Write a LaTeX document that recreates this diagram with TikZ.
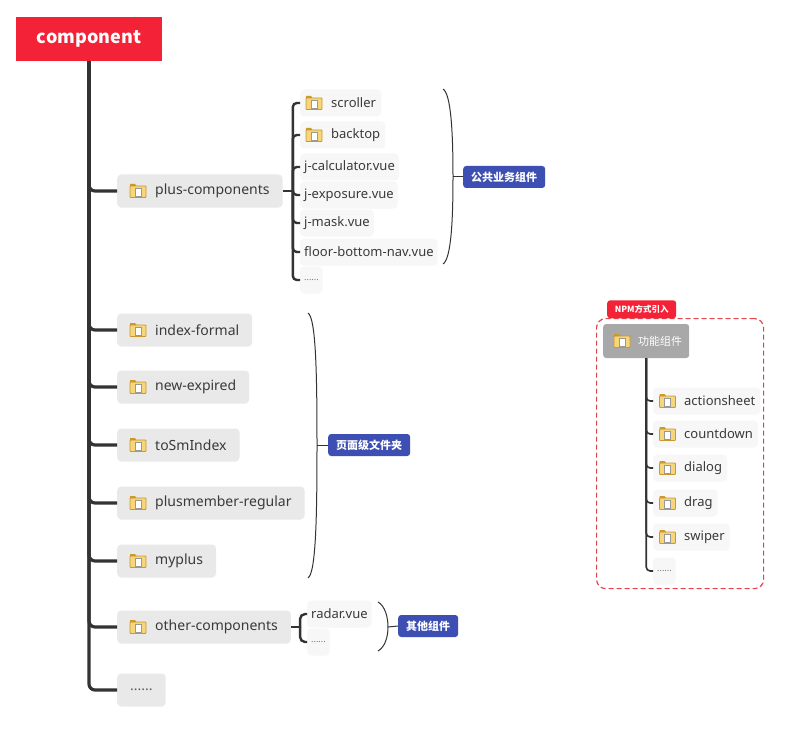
\documentclass[tikz,border=0pt]{standalone}
\usepackage{fontspec}
\setmainfont{Noto Sans}
\newfontfamily\cjk{Noto Sans CJK SC}
\usetikzlibrary{calc}
\definecolor{rootred}{HTML}{F42236}
\definecolor{boxgray}{HTML}{E9E9E9}
\definecolor{subgray}{HTML}{F7F7F7}
\definecolor{txt}{HTML}{3A3A3A}
\definecolor{linec}{HTML}{333333}
\definecolor{tagblue}{HTML}{3D4FB3}
\definecolor{graynode}{HTML}{A8A8A8}
\definecolor{dashred}{HTML}{E0474C}
\definecolor{foldyel}{HTML}{F7D57A}
\definecolor{foldedge}{HTML}{C9982E}
\newcommand\iconpad{\hspace*{25pt}}
\newcommand\subpad{\hspace*{26pt}}
\tikzset{
  mainbox/.style={fill=boxgray, rounded corners=4pt, minimum height=33pt, inner xsep=13pt, inner ysep=0pt, anchor=west, text=txt, font=\fontsize{14}{16}\selectfont},
  subbox/.style={fill=subgray, rounded corners=4pt, minimum height=27pt, inner xsep=4pt, inner ysep=0pt, anchor=west, text=txt, font=\fontsize{13}{15}\selectfont},
  subicon/.style={subbox, inner xsep=5pt},
  subdots/.style={subbox, font=\fontsize{9}{10}\selectfont, text=txt!70},
  tagbox/.style={fill=tagblue, rounded corners=3pt, text=white, font=\cjk\bfseries\fontsize{11}{12}\selectfont, minimum height=22pt, inner xsep=8pt, inner ysep=0pt, anchor=west},
  trunkline/.style={draw=linec, line width=3.2pt, rounded corners=6pt},
  branchline/.style={draw=linec, line width=2.4pt, rounded corners=4pt},
  rbranchline/.style={draw=linec, line width=1.6pt, rounded corners=4pt},
  braceline/.style={draw=linec, line width=1pt},
  folder/.pic={
    \path[fill=foldyel, draw=foldedge, line width=0.8pt, rounded corners=0.8pt] (-8,-5) -- (-8,6.5) -- (8,6.5) -- (8,-5) -- cycle;
    \path[fill=foldedge] (-8,-5) -- (-8,-7) -- (-3,-7) -- (-1.5,-5) -- cycle;
    \path[fill=white, draw=gray!80, line width=0.6pt] (-3,-2.5) rectangle (3,5);
  }
}
\begin{document}
\begin{tikzpicture}[x=1pt,y=-1pt]
\useasboundingbox[fill=white] (0,0) rectangle (809,741);

% root
\node[fill=rootred, minimum width=146pt, minimum height=44pt, inner sep=0pt, text=white, font=\cjk\bfseries\fontsize{18}{20}\selectfont] (root) at (89,39) {component};

% main children
\node[mainbox] (pc) at (117,191) {\iconpad plus-components};
\node[mainbox] (ifm) at (117,330) {\iconpad index-formal};
\node[mainbox] (nex) at (117,387) {\iconpad new-expired};
\node[mainbox] (tsi) at (117,445) {\iconpad toSmIndex};
\node[mainbox] (pmr) at (117,503) {\iconpad plusmember-regular};
\node[mainbox] (myp) at (117,561) {\iconpad myplus};
\node[mainbox] (oc) at (117,627) {\iconpad other-components};
\node[mainbox, text=txt!80] (md) at (117,690) {......};
\foreach \n in {pc,ifm,nex,tsi,pmr,myp,oc} { \pic at ($(\n.west)+(21,0)$) {folder}; }
\foreach \n in {pc,ifm,nex,tsi,pmr,myp,oc,md} { \draw[trunkline] (root.south) |- (\n.west); }

% plus-components children
\node[subicon] (scr) at (300,103) {\subpad scroller};
\node[subicon] (bkt) at (300,135) {\subpad backtop};
\node[subbox] (jca) at (300,167) {j-calculator.vue};
\node[subbox] (jex) at (300,195) {j-exposure.vue};
\node[subbox] (jma) at (300,223) {j-mask.vue};
\node[subbox] (fbn) at (300,252) {floor-bottom-nav.vue};
\node[subdots] (pdt) at (300,280) {......};
\pic at ($(scr.west)+(14,0)$) {folder};
\pic at ($(bkt.west)+(14,0)$) {folder};
\coordinate (pcj) at ($(pc.east)+(10,0)$);
\draw[branchline] (pc.east) -- (pcj);
\foreach \n in {scr,bkt,jca,jex,jma,fbn,pdt} { \draw[branchline] (pcj) |- (\n.west); }

% brace 1
\coordinate (b1t) at (443,89);
\coordinate (b1m) at (453,177);
\coordinate (b1b) at (443,264);
\draw[braceline] (b1t) .. controls +(8,5) and +(0,-45) .. (b1m) .. controls +(0,45) and +(8,-5) .. (b1b);
\node[tagbox] (tg1) at (463,177) {公共业务组件};
\draw[braceline] (b1m) -- (tg1.west);

% brace 2
\coordinate (b2t) at (308,313);
\coordinate (b2m) at (317,445);
\coordinate (b2b) at (308,578);
\draw[braceline] (b2t) .. controls +(8,5) and +(0,-70) .. (b2m) .. controls +(0,70) and +(8,-5) .. (b2b);
\node[tagbox] (tg2) at (328,445) {页面级文件夹};
\draw[braceline] (b2m) -- (tg2.west);

% other-components children
\node[subbox] (rad) at (307,614) {radar.vue};
\node[subdots] (odt) at (307,642) {......};
\coordinate (ocj) at ($(oc.east)+(9,0)$);
\draw[branchline] (oc.east) -- (ocj);
\foreach \n in {rad,odt} { \draw[branchline, rounded corners=5pt] (ocj) |- (\n.west); }

% brace 3
\coordinate (b3t) at (378,602);
\coordinate (b3m) at (388,627);
\coordinate (b3b) at (378,651);
\draw[braceline] (b3t) .. controls +(7,4) and +(0,-10) .. (b3m) .. controls +(0,10) and +(7,-4) .. (b3b);
\node[tagbox] (tg3) at (398,626) {其他组件};
\draw[braceline] (b3m) -- (tg3.west);

% right group
\node[draw=dashred, dashed, dash pattern=on 5pt off 3pt, rounded corners=9pt, line width=1.2pt, minimum width=167pt, minimum height=270pt, anchor=north west, inner sep=0pt] (frm) at (596,318) {};
\node[fill=rootred, rounded corners=3pt, anchor=south west, text=white, font=\cjk\bfseries\fontsize{8.5}{9}\selectfont, minimum width=69pt, minimum height=18pt, inner sep=0pt] (npm) at (607,318.5) {NPM方式引入};
\node[fill=graynode, rounded corners=3pt, minimum height=34pt, anchor=west, inner xsep=7pt, inner ysep=0pt, text=white, font=\cjk\fontsize{11}{13}\selectfont] (fn) at (603,341) {\hspace*{28pt}功能组件};
\pic at ($(fn.west)+(19,0)$) {folder};

\node[subicon] (act) at (653,401) {\subpad actionsheet};
\node[subicon] (cnt) at (653,434) {\subpad countdown};
\node[subicon] (dlg) at (653,468) {\subpad dialog};
\node[subicon] (drg) at (653,503) {\subpad drag};
\node[subicon] (swp) at (653,537) {\subpad swiper};
\node[subdots] (rdt) at (653,571) {......};
\foreach \n in {act,cnt,dlg,drg,swp} { \pic at ($(\n.west)+(14.5,0)$) {folder}; }
\foreach \n in {act,cnt,dlg,drg,swp,rdt} { \draw[rbranchline] (fn.south) |- (\n.west); }
\end{tikzpicture}
\end{document}
